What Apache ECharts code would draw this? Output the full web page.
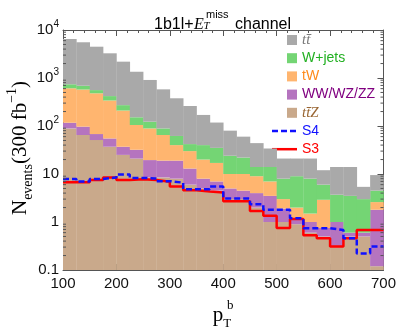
<!DOCTYPE html>
<html><head><meta charset="utf-8">
<script src="https://cdn.jsdelivr.net/npm/echarts@6/dist/echarts.min.js"></script>
<style>html,body{margin:0;padding:0;background:#fff}#c{width:399px;height:327px}</style>
</head><body><div id="c"></div>
<script>
// ---- data ----
const binEdges = [100,125,150,175,200,225,250,275,300,325,350,375,400,425,450,475,500,525,550,575,600,625,650,675,700];
// individual (non-stacked) contributions per bin
const ttz   = [89,65,51,37,25,21,8.6,8.5,8,6,5,4.5,3,3,2,1,1.0,0.9,0.6,0.5,0.3,0.5,0.5,0.12];
const vv    = [28,32,17,18,12,11,10.9,10.5,11,7,3,2.5,2,1.5,2,2.5,0.9,0.3,0.4,0.25,0.7,0.1,0.1,1.68];
const tw    = [493,478,412,285,173,73,69.5,46,21,17,12,10,5,5.5,5,3.5,1.1,0.8,0.5,2.15,0,0,0,0.8];
const wjets = [130,115,80,80,62,47,34,24,22,12,20,18,14,12,5,7,5,7,6.5,3.1,2.7,2.9,2.4,1.9];
const ttbar = [5760,4860,3930,2850,1918,1198,787,491,316,219,130,83,56,38,30,20,13,12,13,6,10.3,10.5,2.4,5];
const s4    = [7.9,7.0,7.9,8.5,9.8,8.3,8.1,7.1,6.6,4.8,4.8,5.5,3.1,3.1,2.35,1.8,1.8,1.2,0.74,0.74,0.68,0.46,0.22,0.31];
const s3    = [6.7,6.7,7.5,8.5,7.5,7.8,7.5,6.9,5.5,4.6,4.3,4.1,2.7,2.7,1.7,1.35,0.75,1.15,0.53,0.46,0.31,0.46,0.68,0.68];
const layerNames  = ['tt\u0304Z','WW/WZ/ZZ','tW','W+jets','tt\u0304'];
const xTicks = [100,200,300,400,500,600,700];
const yMin = 0.1, yMax = 10000;
const minorMult = [2,3,4,5,6,7,8,9];

// ---- styling ----
const layerColors = ['#c9a98b','#b574bf','#ffb56f','#74d574','#a9a9a9'];
const layers = [ttz, vv, tw, wjets, ttbar];

const cum = binEdges.slice(0,-1).map(()=>0);
const layerSeries = layers.map((arr, li) => {
  const data = arr.map((v, i) => {
    const lo = Math.max(cum[i], yMin);
    cum[i] += v;
    return [binEdges[i], binEdges[i+1], lo, Math.max(cum[i], yMin)];
  });
  const color = layerColors[li];
  return {
    type: 'custom', name: layerNames[li], silent: true, z: 2,
    encode: {x: [0,1], y: [2,3]},
    data,
    renderItem: (params, api) => {
      const x0 = api.value(0), x1 = api.value(1), lo = api.value(2), hi = api.value(3);
      if (!(hi > lo)) return null;
      const p0 = api.coord([x0, hi]), p1 = api.coord([x1, lo]);
      return {type: 'rect', shape: {x: p0[0], y: p0[1], width: p1[0]-p0[0] + 0.3, height: p1[1]-p0[1]},
              style: {fill: color}};
    }
  };
});

const minorVals = [];
for (let e = -1; e < 4; e++) minorMult.forEach(m => minorVals.push(m * Math.pow(10, e)));
const minorSeries = {
  type: 'custom', silent: true, z: 5,
  data: minorVals.map(v => [v]),
  encode: {y: 0},
  renderItem: (params, api) => {
    const v = api.value(0);
    const l = api.coord([xTicks[0], v]), r = api.coord([xTicks[xTicks.length-1], v]);
    const st = {stroke: '#555', lineWidth: 1};
    return {type: 'group', children: [
      {type: 'line', shape: {x1: l[0], y1: l[1], x2: l[0]+3, y2: l[1]}, style: st},
      {type: 'line', shape: {x1: r[0], y1: r[1], x2: r[0]-3, y2: r[1]}, style: st}
    ]};
  }
};

function stepData(arr) { return binEdges.map((x, i) => [x, arr[Math.min(i, arr.length-1)]]); }

const lineS4 = {type: 'line', name: 'S4', step: 'end', symbol: 'none', z: 4,
  data: stepData(s4), lineStyle: {color: '#1010ff', width: 2.5, type: [6,3]}};
const lineS3 = {type: 'line', name: 'S3', step: 'end', symbol: 'none', z: 3,
  data: stepData(s3), lineStyle: {color: '#ff0000', width: 2.5}};

const axisCol = '#555';
const chart = echarts.init(document.getElementById('c'), null, {renderer: 'canvas'});

const legendRows = [
  {kind: 'rect', color: layerColors[4], text: 'tt\u0304', tcolor: '#7a7a7a', italic: true},
  {kind: 'rect', color: layerColors[3], text: 'W+jets', tcolor: '#22b022'},
  {kind: 'rect', color: layerColors[2], text: 'tW', tcolor: '#ff8a1a'},
  {kind: 'rect', color: layerColors[1], text: 'WW/WZ/ZZ', tcolor: '#800080'},
  {kind: 'rect', color: layerColors[0], text: 'tt\u0304Z', tcolor: '#996633', italic: true},
  {kind: 'dash', color: '#1010ff', text: 'S4', tcolor: '#1010ff'},
  {kind: 'solid', color: '#ff0000', text: 'S3', tcolor: '#ff0000'}
];
const legendG = [];
legendRows.forEach((r, i) => {
  const y = 40 + i * 18.2;
  if (r.kind === 'rect') legendG.push({type: 'rect', shape: {x: 287, y: y-5, width: 10, height: 10}, style: {fill: r.color}});
  else legendG.push({type: 'line', shape: {x1: 272, y1: y, x2: 297, y2: y},
    style: {stroke: r.color, lineWidth: 2.5, lineDash: r.kind === 'dash' ? [6,3] : null}});
  legendG.push({type: 'text', x: 302, y: y, style: {text: r.text, fill: r.tcolor,
    font: r.italic ? 'italic 15px "Liberation Serif"' : '14px "Liberation Sans"',
    verticalAlign: 'middle', align: 'left'}});
});

const titleG = [
  {type: 'text', x: 154, y: 17, style: {text: '1b1l+', font: '16px "Liberation Sans"', fill: '#000', verticalAlign: 'alphabetic'}},
  {type: 'text', x: 194, y: 17, style: {text: 'E', font: 'italic 16px "Liberation Serif"', fill: '#000', verticalAlign: 'alphabetic'}},
  {type: 'text', x: 203.5, y: 21, style: {text: 'T', font: 'italic 11px "Liberation Serif"', fill: '#000', verticalAlign: 'alphabetic'}},
  {type: 'text', x: 206, y: 9, style: {text: 'miss', font: '11px "Liberation Sans"', fill: '#000', verticalAlign: 'alphabetic'}},
  {type: 'text', x: 235, y: 17, style: {text: 'channel', font: '16px "Liberation Sans"', fill: '#000', verticalAlign: 'alphabetic'}}
];

const yTitle = {type: 'text', x: 20, y: 148, rotation: Math.PI/2,
  style: {text: 'N{sub|events}(300 fb{sup|\u22121})', font: '21px "Liberation Serif"', fill: '#000',
    align: 'center', verticalAlign: 'middle',
    rich: {sub: {font: '14px "Liberation Serif"', verticalAlign: 'bottom', lineHeight: 30},
           sup: {font: '14px "Liberation Serif"', verticalAlign: 'top', lineHeight: 30}}}};
const xTitle = {type: 'text', x: 222, y: 315,
  style: {text: 'p{sub|T}', font: '21px "Liberation Serif"', fill: '#000', align: 'center', verticalAlign: 'middle',
    rich: {sub: {font: '13px "Liberation Serif"', verticalAlign: 'bottom', lineHeight: 30}}}};
const xTitleSup = {type: 'text', x: 227, y: 306, style: {text: 'b', font: '13px "Liberation Serif"', fill: '#000', verticalAlign: 'middle'}};

const xAxisBase = {type: 'value', min: xTicks[0], max: xTicks[xTicks.length-1], interval: 100,
  axisLine: {show: true, lineStyle: {color: axisCol}},
  axisTick: {show: true, inside: true, length: 6, lineStyle: {color: axisCol}},
  minorTick: {show: true, splitNumber: 5, length: 3, lineStyle: {color: axisCol}},
  splitLine: {show: false}, minorSplitLine: {show: false}};
const yAxisBase = {type: 'log', logBase: 10, min: yMin, max: yMax,
  axisLine: {show: true, lineStyle: {color: axisCol}},
  axisTick: {show: true, inside: true, length: 6, lineStyle: {color: axisCol}},
  splitLine: {show: false}};

chart.setOption({
  animation: false,
  backgroundColor: '#fff',
  grid: {left: 63, right: 14, top: 30, bottom: 57},
  xAxis: [
    Object.assign({}, xAxisBase, {position: 'bottom',
      axisLabel: {show: true, fontSize: 15, color: '#111', fontFamily: 'Liberation Sans', margin: 6}}),
    Object.assign({}, xAxisBase, {position: 'top', axisLabel: {show: false}})
  ],
  yAxis: [
    Object.assign({}, yAxisBase, {position: 'left',
      axisLabel: {show: true, fontSize: 15, color: '#111', fontFamily: 'Liberation Sans', margin: 4,
        formatter: v => {
          const e = Math.round(Math.log10(v));
          if (e === -1) return '0.1';
          if (e === 0) return '1';
          if (e === 1) return '10';
          return '10{s|' + e + '}';
        },
        rich: {s: {fontSize: 10, fontFamily: 'Liberation Sans', color: '#111', verticalAlign: 'top', lineHeight: 22}}}}),
    Object.assign({}, yAxisBase, {position: 'right', axisLabel: {show: false}})
  ],
  series: layerSeries.concat([minorSeries, lineS3, lineS4]),
  graphic: legendG.concat(titleG, [yTitle, xTitle, xTitleSup])
});
</script></body></html>
